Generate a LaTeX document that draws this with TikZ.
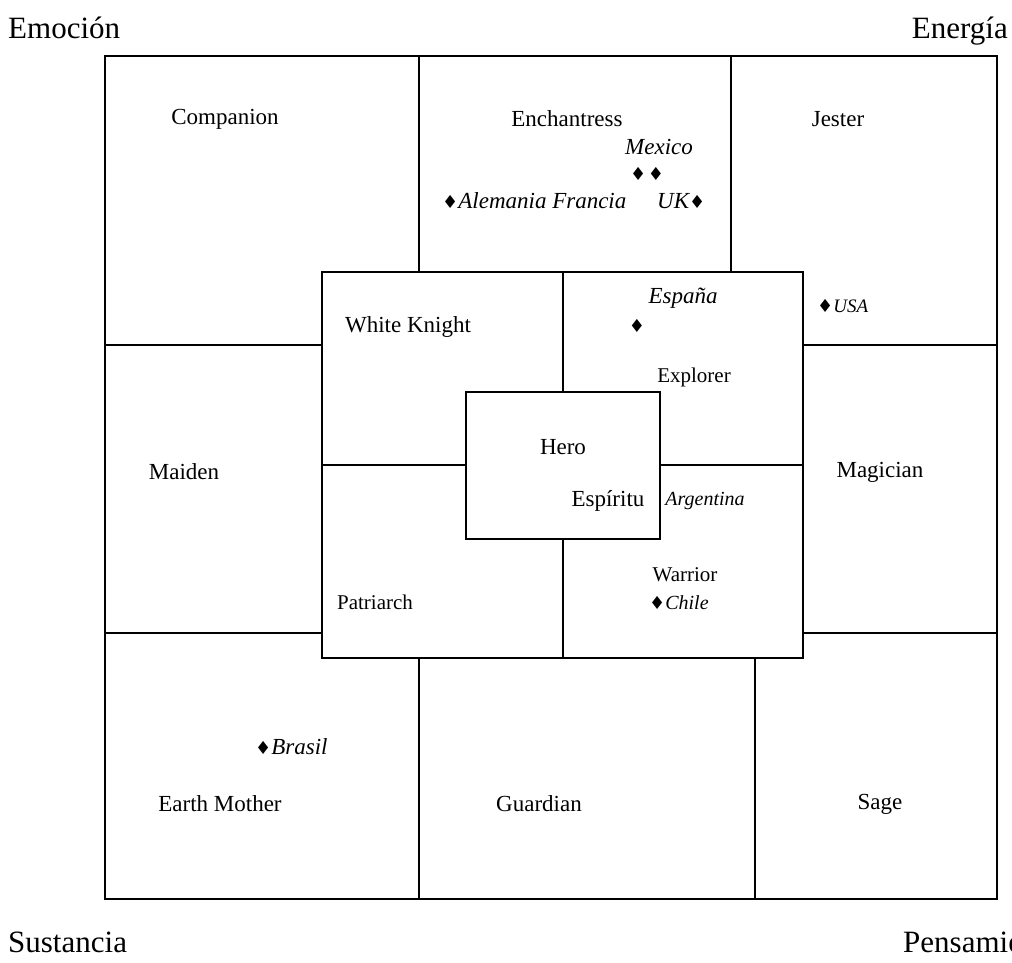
\documentclass[tikz,border=0pt]{standalone}
\usepackage{fontspec}
\setmainfont{Liberation Serif}
\newfontfamily\symfont{DejaVu Sans}
\usetikzlibrary{positioning}

\tikzset{
	wall/.style={line width=1.5pt},
	arch/.style={font=\fontsize{23}{26}\selectfont, inner sep=0pt},
	small/.style={font=\fontsize{21}{24}\selectfont, inner sep=0pt},
	country/.style={font=\fontsize{23}{26}\selectfont\itshape, inner sep=0pt},
	axislabel/.style={font=\fontsize{31}{36}\selectfont, inner sep=0pt}
}
\newcommand{\dia}{{\symfont\fontsize{18}{18}\selectfont ♦}}

\begin{document}
\begin{tikzpicture}[x=1pt,y=-1pt]
\useasboundingbox (0,0) rectangle (1012,962);

% CORNER LABELS
\node[axislabel, anchor=base west] (emo) at (8,38) {Emoción};
\node[axislabel, anchor=base east] (ene) at (1008,38) {Energía};
\node[axislabel, anchor=base west] (sus) at (8,952) {Sustancia};
\node[axislabel, anchor=base west] (pen) at (903,952) {Pensamiento};

% OUTER FRAME
\draw[wall] (105,56) rectangle (997,899);
\draw[wall] (419,56) -- (419,272);
\draw[wall] (731,56) -- (731,272);
\draw[wall] (419,658) -- (419,899);
\draw[wall] (755,658) -- (755,899);
\draw[wall] (105,345) -- (322,345);
\draw[wall] (105,633) -- (322,633);
\draw[wall] (803,345) -- (997,345);
\draw[wall] (803,633) -- (997,633);

% MIDDLE RING
\draw[wall] (322,272) rectangle (803,658);
\draw[wall] (563,272) -- (563,392);
\draw[wall] (563,539) -- (563,658);
\draw[wall] (322,465) -- (466,465);
\draw[wall] (660,465) -- (803,465);

% HERO CORE
\draw[wall] (466,392) rectangle (660,539);

% ARCHETYPES
\node[arch] (companion) at (225,119) {Companion};
\node[arch] (enchantress) at (567,119) {Enchantress};
\node[arch] (jester) at (838,119) {Jester};
\node[arch] (whiteknight) at (408,327) {White Knight};
\node[small] (explorer) at (694,377) {Explorer};
\node[arch] (maiden) at (184,472) {Maiden};
\node[arch] (hero) at (563,447) {Hero};
\node[arch] (espiritu) at (608,501) {Espíritu};
\node[arch] (magician) at (880,472) {Magician};
\node[small] (warrior) at (685,575) {Warrior};
\node[small] (patriarch) at (375,602) {Patriarch};
\node[arch] (earthmother) at (220,804) {Earth Mother};
\node[arch] (guardian) at (539,804) {Guardian};
\node[arch] (sage) at (880,804) {Sage};

% COUNTRIES
\node[country] (mexico) at (659,147) {Mexico};
\node[inner sep=0pt] (mexdots) at (647,174) {\dia\,\dia};
\node[country, anchor=west] (alemania) at (442,201) {\dia Alemania Francia};
\node[country, anchor=west] (uk) at (657,201) {UK\dia};
\node[country] (espana) at (683,298) {España};
\node[inner sep=0pt] (espdot) at (637,326) {\dia};
\node[country, font=\fontsize{19}{22}\selectfont\itshape, anchor=west] (usa) at (817,306) {\dia USA};
\node[country, font=\fontsize{20}{22}\selectfont\itshape] (argentina) at (705,501) {Argentina};
\node[country, font=\fontsize{20}{22}\selectfont\itshape, anchor=west] (chile) at (649,603) {\dia Chile};
\node[country, anchor=west] (brasil) at (255,747) {\dia Brasil};

\end{tikzpicture}
\end{document}
